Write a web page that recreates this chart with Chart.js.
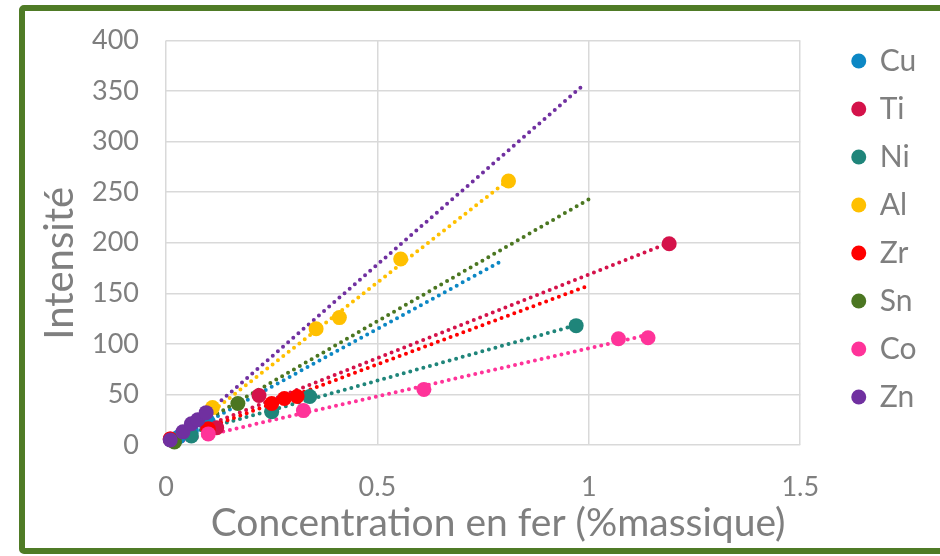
<!DOCTYPE html>
<html>
<head>
<meta charset="utf-8">
<script src="https://cdn.jsdelivr.net/npm/chart.js@4.4.0/dist/chart.umd.min.js"></script>
<style>
    html, body { margin: 0; padding: 0; background: #fff; overflow: hidden; }
    #frame { position: absolute; left: 19px; top: 5px; width: 1000px; height: 537px; border: 6px solid #4F7B26; border-radius: 5px; }
    #chart { position: absolute; left: 0; top: 0; }
</style>
</head>
<body>
<div id="frame"></div>
<canvas id="chart" width="940" height="556"></canvas>
<script>
// --- données ---
const seriesNames = ['Cu', 'Ti', 'Ni', 'Al', 'Zr', 'Sn', 'Co', 'Zn'];
const seriesColors = ['#0C87C4', '#D4124A', '#1F857A', '#FFC000', '#FF0000', '#4B7621', '#FF3399', '#7030A0'];

const cuPoints = [[0.03, 8], [0.06, 14], [0.1, 23]];
const tiPoints = [[0.01, 6], [0.12, 17], [0.22, 49], [1.19, 199]];
const niPoints = [[0.02, 5], [0.06, 9], [0.25, 33], [0.34, 48], [0.97, 118]];
const alPoints = [[0.11, 37], [0.355, 115], [0.41, 126], [0.555, 184], [0.81, 261]];
const zrPoints = [[0.01, 6], [0.1, 16], [0.25, 41], [0.28, 46], [0.31, 48]];
const snPoints = [[0.02, 3], [0.17, 41]];
const coPoints = [[0.1, 11], [0.325, 34], [0.61, 55], [1.07, 105], [1.14, 106]];
const znPoints = [[0.01, 5], [0.04, 13], [0.06, 21], [0.075, 25], [0.095, 32]];

// courbes de tendance (extrémités lues)
const cuTrend = [[0.01, 2.9], [0.79, 181]];
const tiTrend = [[0.01, 5], [1.19, 200]];
const niTrend = [[0.02, 7.7], [0.97, 118.5]];
const alTrend = [[0.1, 30], [0.81, 262]];
const zrTrend = [[0.01, 3.3], [1.0, 157.7]];
const snTrend = [[0.01, 4.2], [1.0, 243]];
const coTrend = [[0.01, 1.5], [1.14, 109]];
const znTrend = [[0.01, 0], [0.99, 357]];

const xTickLabels = ['0', '0.5', '1', '1.5'];
const yTickLabels = ['0', '50', '100', '150', '200', '250', '300', '350', '400'];

const allPoints = [cuPoints, tiPoints, niPoints, alPoints, zrPoints, snPoints, coPoints, znPoints];
const allTrends = [cuTrend, tiTrend, niTrend, alTrend, zrTrend, snTrend, coTrend, znTrend];

const grey = '#7F7F7F';
const fontFamily = 'Lato, "Noto Sans", sans-serif';

const datasets = [];
allPoints.forEach((pts, i) => {
    datasets.push({
        label: seriesNames[i],
        data: pts.map(p => ({ x: p[0], y: p[1] })),
        backgroundColor: seriesColors[i],
        borderColor: seriesColors[i],
        borderWidth: 0,
        pointRadius: 7.5,
        pointHoverRadius: 7.5,
        clip: false,
        order: 10 - i
    });
});
allTrends.forEach((pts, i) => {
    datasets.push({
        label: seriesNames[i] + ' tendance',
        data: pts.map(p => ({ x: p[0], y: p[1] })),
        showLine: true,
        borderColor: seriesColors[i],
        borderWidth: 4,
        borderDash: [0, 6.8],
        borderCapStyle: 'round',
        pointRadius: 0,
        pointHoverRadius: 0,
        fill: false,
        order: 30 - i
    });
});

new Chart(document.getElementById('chart').getContext('2d'), {
    type: 'scatter',
    data: { datasets: datasets },
    options: {
        responsive: false,
        animation: false,
        layout: { padding: { left: 28, top: 28, right: 13.5, bottom: 5 } },
        plugins: {
            tooltip: { enabled: false },
            legend: {
                position: 'right',
                align: 'start',
                labels: {
                    filter: item => item.datasetIndex < 8,
                    sort: (a, b) => a.datasetIndex - b.datasetIndex,
                    usePointStyle: true,
                    pointStyle: 'circle',
                    boxWidth: 12,
                    boxHeight: 10.6,
                    padding: 18,
                    color: grey,
                    font: { family: fontFamily, size: 30 }
                }
            }
        },
        scales: {
            x: {
                type: 'linear',
                min: 0,
                max: 1.5,
                ticks: {
                    stepSize: 0.5,
                    padding: 29,
                    color: grey,
                    font: { family: fontFamily, size: 27, lineHeight: 1 },
                    callback: (v, i) => xTickLabels[i]
                },
                grid: { color: '#D9D9D9', lineWidth: 1.5, drawTicks: false },
                border: { display: false },
                title: {
                    display: true,
                    // espaces insécables en tête pour décaler le titre comme dans Excel
                    text: '\u00A0\u00A0\u00A0Concentration en fer (%massique)',
                    color: grey,
                    font: { family: fontFamily, size: 39 },
                    padding: { top: 0, bottom: 4 }
                },
                afterFit: s => { s.height = 106; }
            },
            y: {
                type: 'linear',
                min: 0,
                max: 400,
                ticks: {
                    stepSize: 50,
                    padding: 27,
                    color: grey,
                    font: { family: fontFamily, size: 27, lineHeight: 1 },
                    callback: (v, i) => yTickLabels[i]
                },
                grid: { color: '#D9D9D9', lineWidth: 1.5, drawTicks: false },
                border: { display: false },
                title: {
                    display: true,
                    text: 'Intensité\u00A0\u00A0\u00A0\u00A0',
                    color: grey,
                    font: { family: fontFamily, size: 40 },
                    padding: { top: 8, bottom: 0 }
                },
                afterFit: s => { s.width = 138; }
            },
            gap: {
                position: 'right',
                display: true,
                grid: { display: false },
                ticks: { display: false },
                border: { display: false },
                afterFit: s => { s.width = 34.5; }
            }
        }
    }
});
</script>
</body>
</html>
